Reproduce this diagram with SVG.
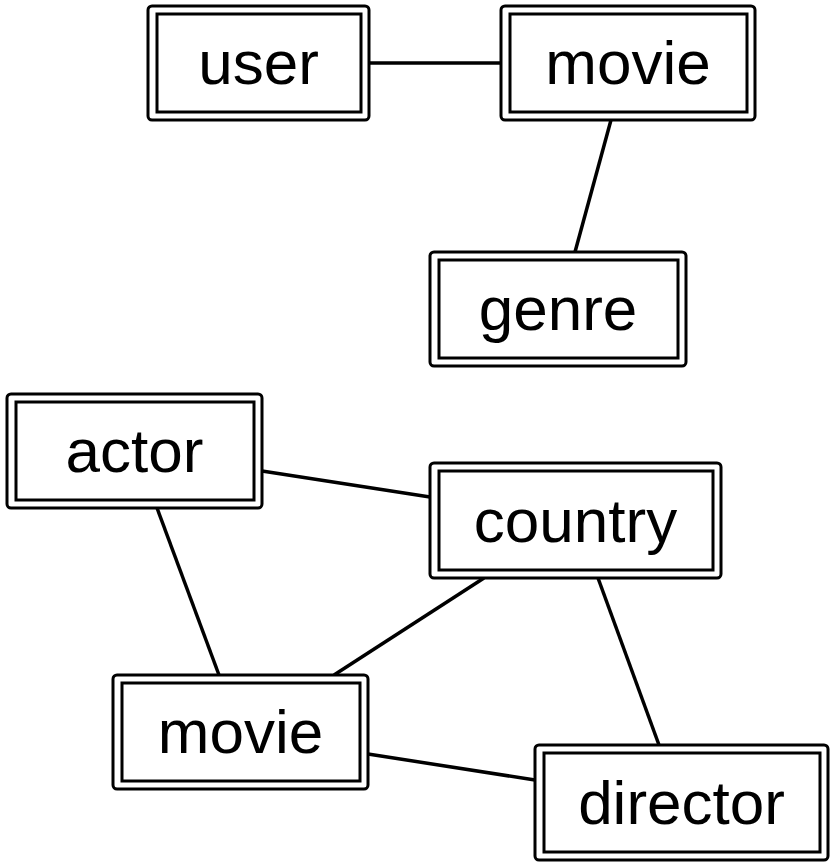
<svg xmlns="http://www.w3.org/2000/svg" width="831" height="868" viewBox="0 0 831 868">
<style>
.outer{fill:#fff;stroke:#000;stroke-width:3}
.inner{fill:none;stroke:#000;stroke-width:3}
.lbl{font-family:"Liberation Sans",Arial,sans-serif;font-size:62px;fill:#000;text-anchor:middle}
.edge{stroke:#000;stroke-width:3.5;fill:none}
</style>
<rect width="831" height="868" fill="#fff"/>
<g id="connectors">
<line class="edge" x1="369" y1="63" x2="501" y2="63"/>
<line class="edge" x1="611" y1="120" x2="575" y2="252"/>
<line class="edge" x1="262" y1="471" x2="430" y2="497"/>
<line class="edge" x1="157" y1="508" x2="219" y2="675"/>
<line class="edge" x1="484" y1="578" x2="334" y2="675"/>
<line class="edge" x1="598" y1="578" x2="659" y2="745"/>
<line class="edge" x1="368" y1="754" x2="535" y2="780"/>
</g>
<g id="user">
<rect class="outer" x="148" y="6" width="221" height="114" rx="4"/>
<rect class="inner" x="157" y="14" width="204" height="98"/>
<text class="lbl" x="258.5" y="84">user</text>
</g>
<g id="movie1">
<rect class="outer" x="501" y="6" width="254" height="114" rx="4"/>
<rect class="inner" x="510" y="14" width="237" height="98"/>
<text class="lbl" x="628" y="84">movie</text>
</g>
<g id="genre">
<rect class="outer" x="430" y="252" width="256" height="114" rx="4"/>
<rect class="inner" x="439" y="260" width="239" height="98"/>
<text class="lbl" x="558" y="330">genre</text>
</g>
<g id="actor">
<rect class="outer" x="7" y="394" width="255" height="114" rx="4"/>
<rect class="inner" x="16" y="402" width="238" height="98"/>
<text class="lbl" x="134.5" y="472">actor</text>
</g>
<g id="country">
<rect class="outer" x="430" y="463" width="291" height="115" rx="4"/>
<rect class="inner" x="439" y="471" width="274" height="99"/>
<text class="lbl" x="575.5" y="542">country</text>
</g>
<g id="movie2">
<rect class="outer" x="113" y="675" width="255" height="114" rx="4"/>
<rect class="inner" x="122" y="683" width="238" height="98"/>
<text class="lbl" x="240.5" y="753">movie</text>
</g>
<g id="director">
<rect class="outer" x="535" y="745" width="293" height="115" rx="4"/>
<rect class="inner" x="544" y="753" width="276" height="99"/>
<text class="lbl" x="681.5" y="824">director</text>
</g>
</svg>
